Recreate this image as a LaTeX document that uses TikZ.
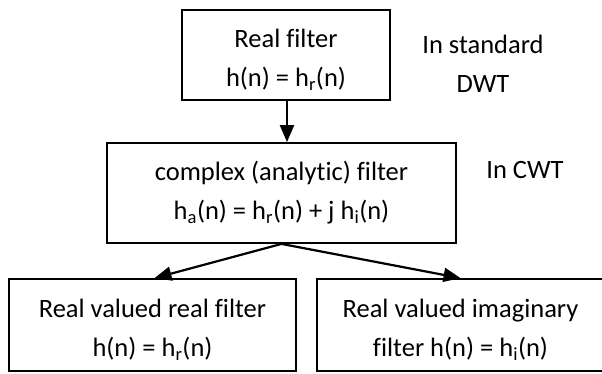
\documentclass[tikz,border=0pt]{standalone}
\usepackage{fontspec}
\setmainfont{Carlito}[Ligatures=NoCommon]
\usetikzlibrary{arrows.meta}
\newcommand{\twoline}[3]{\raisebox{#1}[\height][\depth]{\begin{tabular}{@{}c@{}}#2\\#3\end{tabular}}}
\begin{document}
\begin{tikzpicture}[x=1pt,y=-1pt,
  box/.style={draw,line width=1.8pt,inner sep=0pt,
    font=\fontsize{26.5}{39}\selectfont},
  lbl/.style={inner sep=0pt,font=\fontsize{26.5}{39}\selectfont},
  arr/.style={line width=2.2pt,-{Triangle[length=17pt,width=14pt]}}]
\useasboundingbox (0,0) rectangle (602,373);
\node[box,minimum width=208pt,minimum height=90pt] (top) at (286,55)
  {\twoline{-4.5pt}{Real filter}{h(n) = h\textsubscript{r}(n)}};
\node[box,minimum width=349pt,minimum height=100pt] (mid) at (281.5,193)
  {\twoline{0.5pt}{complex (analytic) filter}{h\textsubscript{a}(n) = h\textsubscript{r}(n) + j h\textsubscript{i}(n)}};
\node[box,minimum width=287pt,minimum height=92pt] (left) at (152.5,325)
  {\twoline{-4pt}{Real valued real filter}{h(n) = h\textsubscript{r}(n)}};
\node[box,minimum width=287pt,minimum height=92pt] (right) at (460.5,325)
  {\twoline{-4pt}{Real valued imaginary}{filter h(n) = h\textsubscript{i}(n)}};
\node[lbl] (dwt) at (483,61) {\twoline{-4.5pt}{In standard}{DWT}};
\node[lbl] (cwt) at (525,170) {In CWT};
\draw[arr] ([xshift=1pt]top.south) -- ([xshift=1pt]top.south |- mid.north);
\draw[arr] (mid.south) -- ([xshift=2pt]left.north);
\draw[arr] (mid.south) -- (right.north);
\end{tikzpicture}
\end{document}
